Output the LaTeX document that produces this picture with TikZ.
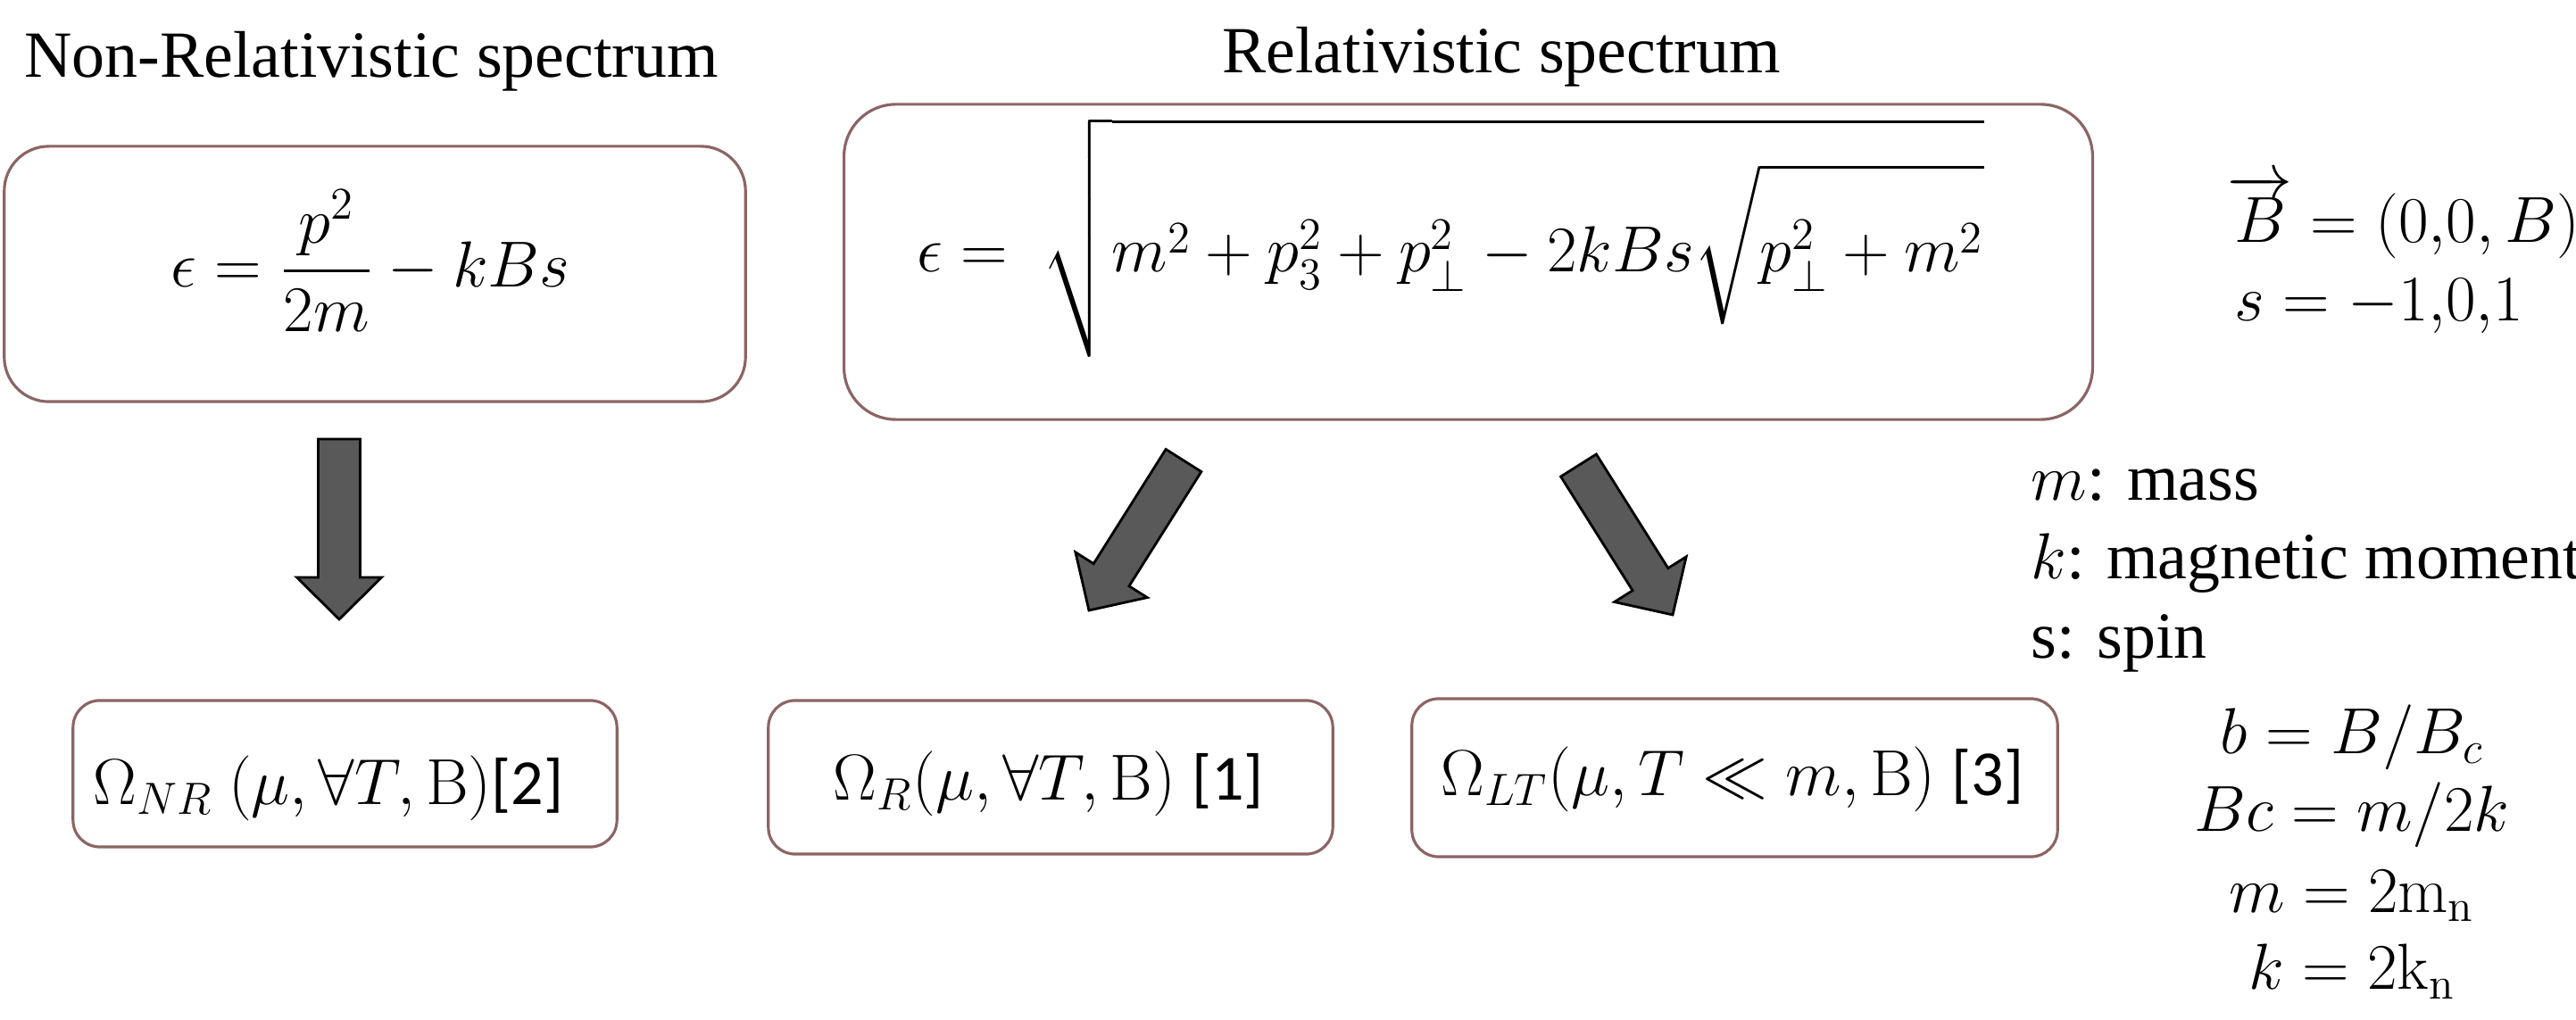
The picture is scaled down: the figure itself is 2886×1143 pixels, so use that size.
\documentclass[tikz,border=0pt]{standalone}
\usepackage{amsmath,amssymb}
\usepackage[no-math]{fontspec}
\setmainfont{Liberation Serif}
\newfontfamily\calibri{Carlito}
\usetikzlibrary{calc}
\definecolor{boxcol}{RGB}{140,100,100}
\definecolor{arrfill}{RGB}{89,89,89}
\newcommand\blockarrow[2]{%
  \coordinate (ahb) at ($(#2)!0.47cm!(#1)$);
  \draw[blockarr] ($(#1)!0.235cm!90:(#2)$) -- ($(ahb)!0.235cm!90:(#2)$)
    -- ($(ahb)!0.475cm!90:(#2)$) -- (#2) -- ($(ahb)!0.475cm!-90:(#2)$)
    -- ($(ahb)!0.235cm!-90:(#2)$) -- ($(#1)!0.235cm!-90:(#2)$) -- cycle;
}
\begin{document}
\begin{tikzpicture}[x=0.01cm,y=-0.01cm,
  ebox/.style={draw=boxcol, line width=0.9pt, rounded corners=0.5cm, inner sep=0pt},
  sbox/.style={draw=boxcol, line width=0.9pt, rounded corners=0.3cm, inner sep=0pt},
  txt/.style={font=\rmfamily\fontsize{21}{25}\selectfont, inner sep=0pt},
  restxt/.style={font=\rmfamily\fontsize{20.5}{24}\selectfont, inner sep=0pt, anchor=base},
  blockarr/.style={draw=black, line width=0.8pt, fill=arrfill, line join=miter}]
\useasboundingbox (0,0) rectangle (2886,1143);

% titles
\node[txt, anchor=base] (nrtitle) at (416,87) {Non-Relativistic spectrum};
\node[txt, anchor=base] (rtitle) at (1682,82) {Relativistic spectrum};

% equation boxes
\node[ebox, minimum width=8.30cm, minimum height=2.86cm] (nrbox) at (420,307) {};
\node[ebox, rounded corners=0.58cm, minimum width=13.98cm, minimum height=3.53cm] (rbox) at (1645,293.5) {};

\node[txt] (nreq) at (415,292.5) {$\displaystyle \epsilon = \frac{p^2}{2m} - kBs$};
\node[txt] (req) at (1625,266.5) {$\displaystyle \epsilon = \ \sqrt{\rule[-24pt]{0pt}{65pt} m^2 + p_3^2 + p_\perp^2 - 2kBs\sqrt{\rule[-15pt]{0pt}{43pt}p_\perp^2+m^2}}$};

% result boxes
\node[sbox, minimum width=6.09cm, minimum height=1.64cm] (nrres) at (386.5,867) {};
\node[sbox, minimum width=6.32cm, minimum height=1.72cm] (rres) at (1177,871) {};
\node[sbox, minimum width=7.23cm, minimum height=1.77cm] (ltres) at (1943.5,871.5) {};

\node[restxt] (nrlab) at (368,902) {$\Omega_{NR}\ (\mu, \forall T, \mathrm{B})${\calibri[2]}};
\node[restxt] (rlab) at (1175,897) {$\Omega_{R}(\mu, \forall T, \mathrm{B})$ {\calibri[1]}};
\node[restxt] (ltlab) at (1941,892) {$\Omega_{LT}(\mu, T \ll m, \mathrm{B})$ {\calibri[3]}};

% block arrows
\coordinate (a1s) at (380,492);    \coordinate (a1e) at (380,694);
\coordinate (a2s) at (1326,516);   \coordinate (a2e) at (1220,684);
\coordinate (a3s) at (1768.5,521.5); \coordinate (a3e) at (1874,689);
\blockarrow{a1s}{a1e}
\blockarrow{a2s}{a2e}
\blockarrow{a3s}{a3e}

% right-hand notes
\node[txt, anchor=base west] (bvec) at (2495,272) {$\overrightarrow{B} = (0{,}0{,}\,B)$};
\node[txt, anchor=base west] (sval) at (2503,360) {$s = -1{,}0{,}1$};

\node[txt, anchor=base west] (mdef) at (2275,561) {$m$: mass};
\node[txt, anchor=base west] (kdef) at (2275,649) {$k$: magnetic moment};
\node[txt, anchor=base west] (sdef) at (2275,738) {s: spin};

\node[txt, anchor=base] (beq) at (2635,845) {$b = B/B_c$};
\node[txt, anchor=base] (bceq) at (2635,932) {$Bc = m/2k$};
\node[txt, anchor=base] (meq) at (2635,1022) {$m = 2\mathrm{m}_\mathrm{n}$};
\node[txt, anchor=base] (keq) at (2635,1109) {$k = 2\mathrm{k}_\mathrm{n}$};
\end{tikzpicture}
\end{document}
